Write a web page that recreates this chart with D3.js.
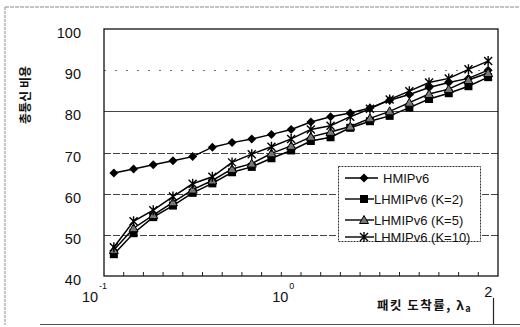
<!DOCTYPE html>
<html><head><meta charset="utf-8">
<script src="https://cdn.jsdelivr.net/npm/d3@7"></script>
<style>
html,body{margin:0;padding:0;background:#fff;}
svg{display:block;}
text{font-family:"Liberation Sans",Arial,sans-serif;fill:#111;}
.kr{font-family:"Noto Sans CJK KR","Noto Sans",sans-serif;font-weight:bold;}
</style></head>
<body>
<svg id="c" width="520" height="327"></svg>
<script>
// ---- data ----
const categories = ["0.1","0.2","0.3","0.4","0.5","0.6","0.7","0.8","0.9","1.0",
                    "1.1","1.2","1.3","1.4","1.5","1.6","1.7","1.8","1.9","2.0"];
const seriesNames = ["HMIPv6","LHMIPv6 (K=2)","LHMIPv6 (K=5)","LHMIPv6 (K=10)"];
const hmip   = [65, 66, 67, 68, 69, 71.3, 72.4, 73.3, 74.4, 75.6, 77.4, 78.7, 79.6, 80.8, 82.7, 84.1, 85.8, 87, 88, 90];
const lhmK2  = [45.3, 50.4, 54.3, 57.1, 60.2, 62.5, 65.2, 66.5, 68.6, 70.5, 72.8, 73.7, 76, 77.6, 78.9, 80.9, 83, 84.4, 86.1, 88.3];
const lhmK5  = [46.3, 51.6, 54.8, 57.9, 61, 63.2, 66, 67.3, 69.8, 71.6, 73.8, 75, 76.3, 78.3, 80, 82.1, 84.2, 85.4, 87.6, 89.3];
const lhmK10 = [47, 53.3, 56, 59.3, 62.4, 64.1, 67.6, 69.6, 71.4, 73.3, 75.6, 76.5, 78.7, 80.6, 82.9, 84.9, 87, 88, 90.2, 92.2];
const yTicks = [40, 50, 60, 70, 80, 90, 100];
const gridValues = [50, 60, 70, 80, 90];
const xTickLabels = [
  {cat:"0.1", base:"10", exp:"-1"},
  {cat:"1.0", base:"10", exp:"0"},
  {cat:"2.0", base:"2", exp:""}
];
const yTitle = "총통신 비용";
const xTitle = "패킷 도착률, λ";
const xTitleSub = "a";

const series = [
  {name:seriesNames[0], values:hmip,   marker:"diamond"},
  {name:seriesNames[1], values:lhmK2,  marker:"square"},
  {name:seriesNames[2], values:lhmK5,  marker:"triangle"},
  {name:seriesNames[3], values:lhmK10, marker:"star"}
];

// ---- layout ----
const svg = d3.select("#c");
const L = 104, R = 498, T = 29, B = 276;
const x = d3.scaleBand().domain(categories).range([L, R]).padding(0);
const bw = x.bandwidth();
const cx = c => x(c) + bw/2;
const y = d3.scaleLinear().domain([40, 100]).range([B, T]);

// outer frame (scanned page border)
svg.append("line").attr("x1",5).attr("x2",520).attr("y1",7).attr("y2",7)
  .attr("stroke","#888").attr("stroke-width",1).attr("stroke-dasharray","4,1");
svg.append("line").attr("x1",5).attr("x2",5).attr("y1",7).attr("y2",325)
  .attr("stroke","#888").attr("stroke-width",1).attr("stroke-dasharray","3,1");
svg.append("line").attr("x1",40).attr("x2",520).attr("y1",324.5).attr("y2",324.5)
  .attr("stroke","#555").attr("stroke-width",1.2);

// gridlines
svg.append("g").selectAll("line").data(gridValues).join("line")
  .attr("x1", L).attr("x2", R)
  .attr("y1", d => Math.round(y(d))+0.5).attr("y2", d => Math.round(y(d))+0.5)
  .attr("stroke", d => d === 90 ? "#777" : "#444")
  .attr("stroke-width", 1)
  .attr("stroke-dasharray", d => d === 90 ? "2,9" : (d === 80 ? null : "7,2"));

// plot frame
svg.append("rect").attr("x", L).attr("y", T).attr("width", R-L).attr("height", B-T)
  .attr("fill","none").attr("stroke","#111").attr("stroke-width",1.3);

// bottom ticks (category boundaries, pointing up)
svg.append("g").selectAll("line").data(categories.slice(1)).join("line")
  .attr("x1", d => x(d)).attr("x2", d => x(d))
  .attr("y1", B).attr("y2", B-4)
  .attr("stroke","#222").attr("stroke-width",1);

// y tick labels
svg.append("g").selectAll("text").data(yTicks).join("text")
  .attr("x", 81).attr("y", d => y(d) + 4)
  .attr("dy","0.35em").attr("text-anchor","end")
  .style("font-size","14.5px")
  .text(d => d);

// x tick labels with exponents
const xl = svg.append("g");
xTickLabels.forEach(t => {
  const px = cx(t.cat);
  let baseX;
  if (t.cat === categories[0]) baseX = x(t.cat) - 22;
  else if (t.exp !== "") baseX = px - 19;
  else baseX = px - 4;
  const yy = t.exp !== "" ? 302 : 297;
  xl.append("text").attr("x", baseX).attr("y", yy).style("font-size","14.5px").text(t.base);
  if (t.exp !== "") {
    xl.append("text").attr("x", baseX + 17).attr("y", 289)
      .style("font-size","9px").text(t.exp);
  }
});

// axis titles
svg.append("text").attr("class","kr")
  .attr("transform","translate(30,95) rotate(-90)")
  .attr("text-anchor","middle")
  .style("font-size","12px")
  .text(yTitle);
const xt = svg.append("text").attr("class","kr")
  .attr("x", 377).attr("y", 310)
  .style("font-size","12.5px").style("letter-spacing","1.5px")
  .text(xTitle);
xt.append("tspan").attr("dy", 2).style("font-size","9px").text(xTitleSub);
svg.append("line").attr("x1",493.5).attr("x2",493.5).attr("y1",298).attr("y2",324)
  .attr("stroke","#222").attr("stroke-width",1.2);

// markers
function drawMarker(g, type, px, py) {
  if (type === "diamond") {
    g.append("path").attr("d", `M${px},${py-4.5}L${px+4.5},${py}L${px},${py+4.5}L${px-4.5},${py}Z`)
      .attr("fill","#000");
  } else if (type === "square") {
    g.append("rect").attr("x", px-4).attr("y", py-4).attr("width",8).attr("height",8)
      .attr("fill","#000");
  } else if (type === "triangle") {
    g.append("path").attr("d", `M${px},${py-4.5}L${px+4.5},${py+3.5}L${px-4.5},${py+3.5}Z`)
      .attr("fill","#777").attr("stroke","#000").attr("stroke-width",1);
  } else if (type === "star") {
    g.append("path").attr("d",
      `M${px-4},${py-4}L${px+4},${py+4}M${px-4},${py+4}L${px+4},${py-4}M${px},${py-5}L${px},${py+5}`)
      .attr("stroke","#000").attr("stroke-width",1.4).attr("fill","none");
  }
}

const line = d3.line().x((d,i) => cx(categories[i])).y(d => y(d));
const plot = svg.append("g");
series.forEach(s => {
  plot.append("path").datum(s.values).attr("d", line)
    .attr("fill","none").attr("stroke","#000").attr("stroke-width",1.5);
});
series.forEach(s => {
  const g = plot.append("g");
  s.values.forEach((v,i) => drawMarker(g, s.marker, cx(categories[i]), y(v)));
});

// legend
const lg = svg.append("g");
lg.append("rect").attr("x",338.5).attr("y",166.5).attr("width",142).attr("height",75)
  .attr("fill","#fff").attr("stroke","#333").attr("stroke-width",1).attr("stroke-dasharray","2,1");
const legY = [178, 199, 220, 237];
series.forEach((s,i) => {
  const yy = legY[i];
  lg.append("line").attr("x1",345).attr("x2", i === 0 ? 378 : 374).attr("y1",yy).attr("y2",yy)
    .attr("stroke","#000").attr("stroke-width",1.4);
  drawMarker(lg, s.marker, 364, yy);
  lg.append("text").attr("x", i === 0 ? 383 : 374).attr("y", yy).attr("dy","0.35em")
    .style("font-size","13px").text(s.name);
});
</script>
</body></html>
